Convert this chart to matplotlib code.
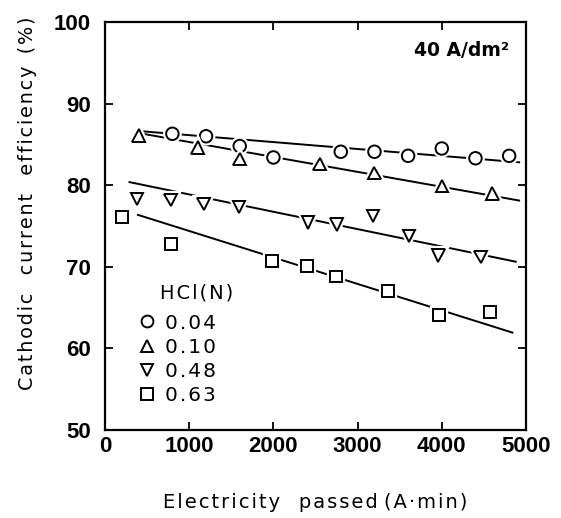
import matplotlib
matplotlib.use("Agg")
import matplotlib.pyplot as plt
import matplotlib.patheffects as pe

# Electricity passed (A·min) and cathodic current efficiency (%) per HCl concentration
x_004 = [800, 1200, 1600, 2000, 2800, 3200, 3600, 4000, 4400, 4800]
y_004 = [86.3, 86.0, 84.8, 83.4, 84.1, 84.1, 83.6, 84.5, 83.3, 83.6]

x_010 = [400, 1100, 1600, 2550, 3200, 4000, 4600]
y_010 = [86.1, 84.6, 83.2, 82.6, 81.5, 79.9, 79.0]

x_048 = [380, 780, 1170, 1590, 2410, 2750, 3180, 3610, 3960, 4460]
y_048 = [78.3, 78.2, 77.7, 77.3, 75.4, 75.2, 76.2, 73.8, 71.4, 71.2]

x_063 = [200, 780, 1980, 2400, 2740, 3360, 3970, 4570]
y_063 = [76.1, 72.8, 70.7, 70.1, 68.8, 67.0, 64.1, 64.5]

# Trend lines (end points)
fit_x_004, fit_y_004 = [450, 4930], [86.6, 82.8]
fit_x_010, fit_y_010 = [450, 4930], [86.3, 78.1]
fit_x_048, fit_y_048 = [280, 4890], [80.4, 70.6]
fit_x_063, fit_y_063 = [380, 4850], [76.4, 61.9]

labels = ["0.04", "0.10", "0.48", "0.63"]
markers = ["o", "^", "v", "s"]

x_ticks = [0, 1000, 2000, 3000, 4000, 5000]
y_ticks = [50, 60, 70, 80, 90, 100]

HAIR = "\u200a"


def tracked(s):
    """Loosen letter spacing with hair spaces."""
    return HAIR.join(s)


fig = plt.figure(figsize=(5.61, 5.18), dpi=100)
ax = fig.add_axes([0.1872, 0.1699, 0.7504, 0.7876])

fits = [(fit_x_004, fit_y_004), (fit_x_010, fit_y_010),
        (fit_x_048, fit_y_048), (fit_x_063, fit_y_063)]
for fx, fy in fits:
    ax.plot(fx, fy, color="black", lw=1.4, solid_capstyle="butt", zorder=2)

series = [(x_004, y_004), (x_010, y_010), (x_048, y_048), (x_063, y_063)]
halo = [pe.Stroke(linewidth=4.5, foreground="white"), pe.Normal()]
for (xs, ys), m, lab in zip(series, markers, labels):
    h, = ax.plot(xs, ys, linestyle="none", marker=m, ms=9 if m != "s" else 8.5,
                 mfc="white", mec="black", mew=1.4, zorder=3, label=lab)
    h.set_path_effects(halo)

ax.set_xlim(0, 5000)
ax.set_ylim(50, 100)
ax.set_xticks(x_ticks)
ax.set_yticks(y_ticks)
ax.set_xticklabels([str(v) for v in x_ticks])
ax.set_yticklabels([str(v) for v in y_ticks])

for t in ax.get_xticklabels() + ax.get_yticklabels():
    t.set_fontfamily("Liberation Sans")
    t.set_fontweight("bold")
    t.set_fontsize(16)

ax.tick_params(direction="in", length=6, width=1.3, top=True, right=True)
ax.tick_params(axis="x", pad=4)
ax.tick_params(axis="y", pad=10)
for s in ax.spines.values():
    s.set_linewidth(1.6)

ax.set_xlabel(tracked("Electricity") + "   " + tracked("passed") + " "
              + tracked("(A·min)"), fontsize=14, family="DejaVu Sans")
ax.xaxis.set_label_coords(0.5, -0.155)
ax.set_ylabel(tracked("Cathodic") + "   " + tracked("current") + "   "
              + tracked("efficiency") + "  " + tracked("(%)"),
              fontsize=13.8, family="DejaVu Sans")
ax.yaxis.set_label_coords(-0.162, 0.555)

ax.text(0.96, 0.93, "40 A/dm²", transform=ax.transAxes, ha="right",
        va="center", fontsize=13.5, family="DejaVu Sans", weight="bold")

ax.text(0.13, 0.337, tracked("HCl(N)"), transform=ax.transAxes, ha="left",
        va="center", fontsize=14, family="DejaVu Sans")
leg = ax.legend(handles=[plt.Line2D([], [], linestyle="none", marker=m,
                                    ms=8.5 if m != "s" else 8, mfc="white",
                                    mec="black", mew=1.4) for m in markers],
                labels=[tracked(lab) for lab in labels], loc="upper left",
                bbox_to_anchor=(0.046, 0.32), frameon=False,
                handlelength=0.8, handletextpad=0.5, labelspacing=0.25,
                borderpad=0.2, prop=dict(family="DejaVu Sans", size=14.5))

fig.savefig("out.png", dpi=100, facecolor="white")
